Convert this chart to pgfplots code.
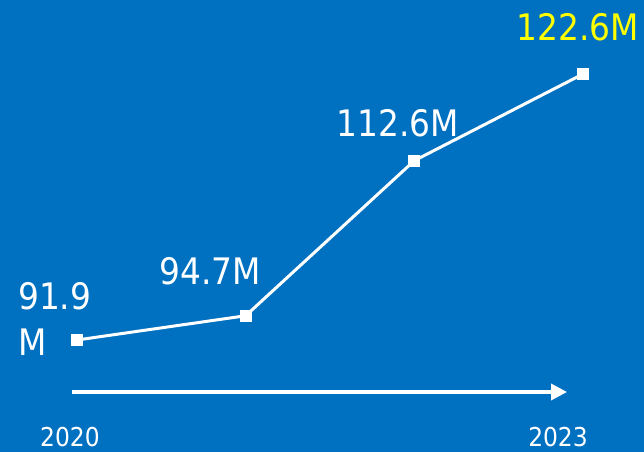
\documentclass[border=0pt]{standalone}
\usepackage{fontspec}
\setmainfont{DejaVu Sans Condensed}
\usepackage{pgfplots}
\pgfplotsset{compat=1.18}
\usetikzlibrary{arrows.meta}
\definecolor{bgblue}{RGB}{0,112,192}
\definecolor{hiyellow}{RGB}{255,255,0}
\begin{document}
\begin{tikzpicture}[x=1pt,y=1pt]
% background: picture is 644 x 452, axis box starts at (77,340) from top-left
\fill[bgblue] (-77,-112) rectangle (567,340);
\begin{axis}[
    at={(0,0)}, anchor=south west,
    scale only axis,
    width=506pt, height=266pt,
    xmin=0, xmax=3,
    ymin=91.9, ymax=122.6,
    hide axis,
    clip=false,
]
\addplot[white, line width=3pt, mark=square*, mark size=5.5pt,
    mark options={solid, fill=white, line width=0pt}]
coordinates {
(0, 91.9)
(1, 94.7)
(2, 112.6)
(3, 122.6)
};
\end{axis}
% labels
\begin{scope}[every node/.style={inner sep=0pt, font=\fontsize{36.5}{42}\selectfont}]
\node[white, anchor=base west] at (-59,31) {91.9};
\node[white, anchor=base west] at (-59,-15) {M};
\node[white, anchor=base] at (133,56) {94.7M};
\node[white, anchor=base] at (321,203) {112.6M};
\node[hiyellow, anchor=base] at (501,299) {122.6M};
\end{scope}
\draw[white, line width=3.5pt, -{Triangle[length=16pt, width=16pt]}] (-5,-52) -- (490,-52);
\begin{scope}[every node/.style={inner sep=0pt, white, font=\fontsize{26}{30}\selectfont}]
\node[anchor=base] at (-7,-106) {2020};
\node[anchor=base] at (481,-106) {2023};
\end{scope}
\end{tikzpicture}
\end{document}
